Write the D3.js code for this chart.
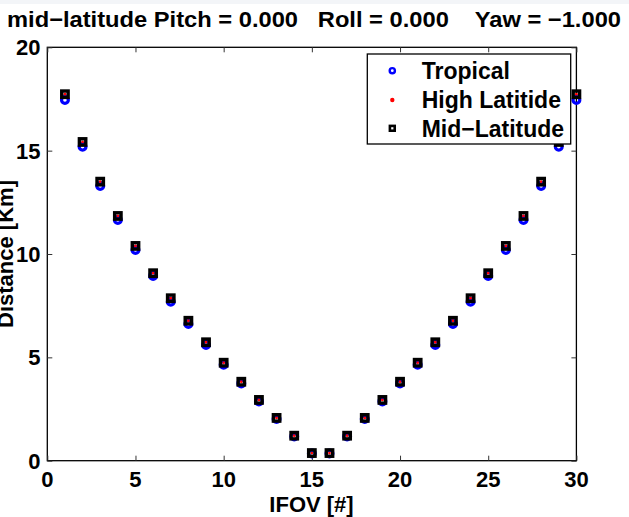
<!DOCTYPE html>
<html>
<head>
<meta charset="utf-8">
<script src="https://cdn.jsdelivr.net/npm/d3@7"></script>
<style>
  html, body { margin: 0; padding: 0; background: #fff; }
  svg { display: block; font-family: "Liberation Sans", Arial, Helvetica, sans-serif; font-weight: bold; }
</style>
</head>
<body>
<svg id="chart" width="629" height="517"></svg>
<script>
// IFOV index across the scan line
const ifov = [1,2,3,4,5,6,7,8,9,10,11,12,13,14,15,16,17,18,19,20,21,22,23,24,25,26,27,28,29,30];

// Distance [Km] per IFOV for each atmosphere profile
const tropical = [17.45,15.19,13.29,11.65,10.19,8.94,7.69,6.61,5.60,4.64,3.74,2.87,2.02,1.17,0.35,
                  0.35,1.17,2.02,2.87,3.74,4.64,5.60,6.61,7.69,8.94,10.19,11.65,13.29,15.19,17.45];
const highLatitude = [17.73,15.42,13.50,11.84,10.39,9.07,7.86,6.77,5.73,4.74,3.82,2.94,2.07,1.21,0.37,
                      0.37,1.21,2.07,2.94,3.82,4.74,5.73,6.77,7.86,9.07,10.39,11.84,13.50,15.42,17.73];
const midLatitude = [17.73,15.42,13.50,11.84,10.39,9.07,7.86,6.77,5.73,4.74,3.82,2.94,2.07,1.21,0.37,
                     0.37,1.21,2.07,2.94,3.82,4.74,5.73,6.77,7.86,9.07,10.39,11.84,13.50,15.42,17.73];

const xTicks = [0,5,10,15,20,25,30];
const yTicks = [0,5,10,15,20];
const seriesNames = ["Tropical","High Latitide","Mid\u2212Latitude"];

const titleText = "mid\u2212latitude Pitch = 0.000   Roll = 0.000    Yaw = \u22121.000";
const xLabel = "IFOV [#]";
const yLabel = "Distance [Km]";

const svg = d3.select("#chart");
const plot = { left: 47.3, right: 576.4, top: 47.3, bottom: 460.7 };

const x = d3.scaleLinear().domain([0, 30]).range([plot.left, plot.right]);
const y = d3.scaleLinear().domain([0, 20]).range([plot.bottom, plot.top]);

// faint strip along the top edge of the figure window
svg.append("rect").attr("x", 0).attr("y", 0).attr("width", 629).attr("height", 4)
  .attr("fill", "#f3f5f8");

// title
svg.append("text")
  .attr("x", 7).attr("y", 27)
  .attr("font-size", 22)
  .attr("textLength", 614).attr("lengthAdjust", "spacingAndGlyphs")
  .style("white-space", "pre")
  .attr("xml:space", "preserve")
  .text(titleText);

// axes box
svg.append("rect")
  .attr("x", plot.left).attr("y", plot.top)
  .attr("width", plot.right - plot.left).attr("height", plot.bottom - plot.top)
  .attr("fill", "none").attr("stroke", "#000").attr("stroke-width", 1.3);

const tickLen = 5;
// inward ticks on bottom/top and left/right
const bottomAxis = d3.axisBottom(x).tickValues(xTicks).tickSizeInner(-tickLen).tickSizeOuter(0).tickFormat("");
const topAxis = d3.axisTop(x).tickValues(xTicks).tickSizeInner(-tickLen).tickSizeOuter(0).tickFormat("");
const leftAxis = d3.axisLeft(y).tickValues(yTicks).tickSizeInner(-tickLen).tickSizeOuter(0).tickFormat("");
const rightAxis = d3.axisRight(y).tickValues(yTicks).tickSizeInner(-tickLen).tickSizeOuter(0).tickFormat("");

function styleAxis(g) {
  g.select(".domain").remove();
  g.selectAll(".tick line").attr("stroke", "#333").attr("stroke-width", 1);
}
svg.append("g").attr("transform", `translate(0,${plot.bottom})`).call(bottomAxis).call(styleAxis);
svg.append("g").attr("transform", `translate(0,${plot.top})`).call(topAxis).call(styleAxis);
svg.append("g").attr("transform", `translate(${plot.left},0)`).call(leftAxis).call(styleAxis);
svg.append("g").attr("transform", `translate(${plot.right},0)`).call(rightAxis).call(styleAxis);

// tick labels
svg.append("g").selectAll("text").data(xTicks).join("text")
  .attr("x", d => x(d)).attr("y", 486.5)
  .attr("text-anchor", "middle").attr("font-size", 22)
  .text(d => d);
svg.append("g").selectAll("text").data(yTicks).join("text")
  .attr("x", 40.5).attr("y", d => y(d)).attr("dy", "0.36em")
  .attr("text-anchor", "end").attr("font-size", 22)
  .text(d => d);

// axis labels
svg.append("text")
  .attr("x", 311.5).attr("y", 511.5)
  .attr("text-anchor", "middle").attr("font-size", 22)
  .text(xLabel);
svg.append("text")
  .attr("transform", `translate(12.5,${(plot.top + plot.bottom) / 2}) rotate(-90)`)
  .attr("text-anchor", "middle").attr("font-size", 22)
  .text(yLabel);

// markers
const blue = "#0000ff", red = "#ff0000";
function drawCircle(g, cx, cy, r, sw) {
  return g.append("circle").attr("cx", cx).attr("cy", cy).attr("r", r)
    .attr("fill", "none").attr("stroke", blue).attr("stroke-width", sw);
}
function drawDot(g, cx, cy, r) {
  return g.append("circle").attr("cx", cx).attr("cy", cy).attr("r", r).attr("fill", red);
}
function drawSquare(g, cx, cy, s, sw) {
  return g.append("rect").attr("x", cx - s / 2).attr("y", cy - s / 2)
    .attr("width", s).attr("height", s)
    .attr("fill", "none").attr("stroke", "#000").attr("stroke-width", sw);
}

const marks = svg.append("g");
marks.append("g").selectAll("circle").data(ifov).join("circle")
  .attr("cx", (d) => x(d)).attr("cy", (d, i) => y(tropical[i])).attr("r", 3.4)
  .attr("fill", "none").attr("stroke", blue).attr("stroke-width", 3.2);
marks.append("g").selectAll("circle").data(ifov).join("circle")
  .attr("cx", (d) => x(d)).attr("cy", (d, i) => y(highLatitude[i])).attr("r", 1.4)
  .attr("fill", red);
marks.append("g").selectAll("rect").data(ifov).join("rect")
  .attr("x", (d) => x(d) - 3.2).attr("y", (d, i) => y(midLatitude[i]) - 3.2)
  .attr("width", 6.4).attr("height", 6.4)
  .attr("fill", "none").attr("stroke", "#000").attr("stroke-width", 3.4);

// legend
const legend = svg.append("g");
legend.append("rect")
  .attr("x", 367.3).attr("y", 54).attr("width", 203.4).attr("height", 90)
  .attr("fill", "#fff").attr("stroke", "#000").attr("stroke-width", 1.3);
const rowY = [70.7, 100, 128.3];
const mx = 392.3;
drawCircle(legend, mx, rowY[0], 2.6, 2.4);
drawDot(legend, mx, rowY[1], 2.2);
drawSquare(legend, mx, rowY[2], 4.8, 2.6);
legend.selectAll("text").data(seriesNames).join("text")
  .attr("x", 421.7).attr("y", (d, i) => rowY[i]).attr("dy", "0.36em")
  .attr("font-size", 23)
  .text(d => d);
</script>
</body>
</html>
